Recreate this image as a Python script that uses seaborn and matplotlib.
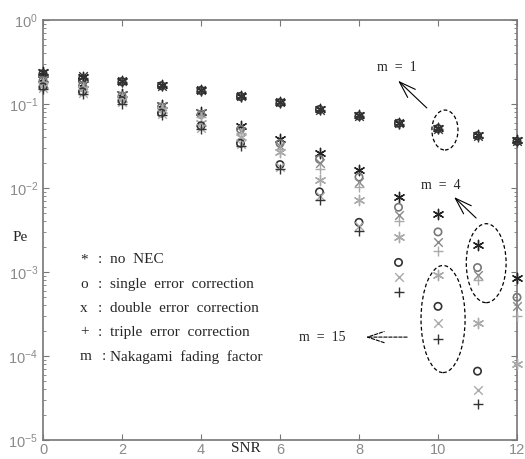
import numpy as np
import pandas as pd
import matplotlib
matplotlib.use("Agg")
import matplotlib.pyplot as plt
import seaborn as sns
from matplotlib.patches import Ellipse

# SNR points
snr = [0, 1, 2, 3, 4, 5, 6, 7, 8, 9, 10, 11, 12]

# m = 1 (Rayleigh) - all codes overlap
m1_nec = [0.24, 0.21, 0.19, 0.168, 0.147, 0.125, 0.106, 0.087, 0.073, 0.060, 0.052, 0.043, 0.037]
m1_sec = [0.23, 0.20, 0.185, 0.165, 0.145, 0.123, 0.104, 0.086, 0.072, 0.059, 0.051, 0.042, 0.036]
m1_dec = [0.235, 0.215, 0.188, 0.166, 0.146, 0.124, 0.105, 0.086, 0.072, 0.059, 0.051, 0.042, 0.036]
m1_tec = [0.225, 0.205, 0.183, 0.164, 0.144, 0.122, 0.104, 0.085, 0.071, 0.058, 0.050, 0.041, 0.035]

# m = 4
m4_nec = [0.20, 0.175, 0.13, 0.097, 0.080, 0.055, 0.038, 0.026, 0.0163, 0.0078, 0.0049, 0.0021, 0.00085]
m4_sec = [0.19, 0.165, 0.125, 0.092, 0.075, 0.050, 0.034, 0.022, 0.0135, 0.0059, 0.0030, 0.00113, 0.0005]
m4_dec = [0.195, 0.17, 0.128, 0.094, 0.078, 0.048, 0.032, 0.020, 0.0118, 0.0048, 0.0023, 0.00092, 0.00039]
m4_tec = [0.185, 0.16, 0.12, 0.090, 0.070, 0.045, 0.029, 0.017, 0.0102, 0.0040, 0.0018, 0.0008, 0.0003]

# m = 15
m15_nec = [0.17, 0.15, 0.115, 0.085, 0.060, 0.040, 0.027, 0.0125, 0.0072, 0.0026, 0.00092, 0.00025, 0.00008]
m15_sec = [0.16, 0.14, 0.11, 0.078, 0.055, 0.034, 0.019, 0.009, 0.0039, 0.0013, 0.00039, 0.000066, np.nan]
m15_dec = [0.155, 0.135, 0.105, 0.076, 0.052, 0.033, 0.018, 0.008, 0.0035, 0.00088, 0.00025, 0.000039, np.nan]
m15_tec = [0.15, 0.13, 0.10, 0.074, 0.050, 0.032, 0.017, 0.0072, 0.0031, 0.00058, 0.00016, 0.000027, np.nan]

series = {
    ("1", "nec"): m1_nec, ("1", "sec"): m1_sec, ("1", "dec"): m1_dec, ("1", "tec"): m1_tec,
    ("4", "nec"): m4_nec, ("4", "sec"): m4_sec, ("4", "dec"): m4_dec, ("4", "tec"): m4_tec,
    ("15", "nec"): m15_nec, ("15", "sec"): m15_sec, ("15", "dec"): m15_dec, ("15", "tec"): m15_tec,
}

rows = []
for (m, code), vals in series.items():
    for s, v in zip(snr, vals):
        rows.append({"snr": s, "pe": v, "m": m, "code": code})
df = pd.DataFrame(rows).dropna()

# marker styles
markers = {"nec": (6, 2, 0), "sec": "o", "dec": "x", "tec": "+"}
sizes = {"nec": 55, "sec": 28, "dec": 38, "tec": 45}
colors = {
    ("1", "nec"): "#222222", ("1", "sec"): "#333333", ("1", "dec"): "#333333", ("1", "tec"): "#333333",
    ("4", "nec"): "#222222", ("4", "sec"): "#777777", ("4", "dec"): "#888888", ("4", "tec"): "#aaaaaa",
    ("15", "nec"): "#aaaaaa", ("15", "sec"): "#333333", ("15", "dec"): "#aaaaaa", ("15", "tec"): "#333333",
}

sns.set_style("ticks")
serif = ["Liberation Serif", "DejaVu Serif"]
plt.rcParams["font.family"] = ["Liberation Sans", "DejaVu Sans"]

fig = plt.figure(figsize=(5.25, 4.59), dpi=100)
ax = fig.add_axes([43 / 525, 1 - 440 / 459, 474 / 525, 420 / 459])

for (m, code), c in colors.items():
    sub = df[(df["m"] == m) & (df["code"] == code)]
    kw = dict(color=c, linewidth=1.0)
    if code == "sec":
        kw = dict(facecolor="none", edgecolor=c, linewidth=1.2)
    sns.scatterplot(data=sub, x="snr", y="pe", marker=markers[code], s=sizes[code],
                    ax=ax, legend=False, zorder=3, clip_on=False, **kw)

ax.set_yscale("log")
ax.set_xlim(0, 12)
ax.set_ylim(1e-5, 1)
ax.set_xticks([0, 2, 4, 6, 8, 10, 12])
ax.set_xlabel("")
ax.set_ylabel("")
ax.tick_params(which="both", direction="in", top=True, right=True, colors="#777777",
               labelcolor="#8a8a8a", labelsize=10.5)
ax.tick_params(which="major", length=4)
ax.tick_params(which="minor", length=2)
ax.tick_params(axis="x", pad=2)
for sp in ax.spines.values():
    sp.set_color("#777777")
    sp.set_linewidth(1.2)

# axis labels
fig.text(20 / 525, 1 - 237 / 459, "Pe", family=serif, fontsize=11, ha="center", va="center")
fig.text(246 / 525, 1 - 448 / 459, "SNR", family=serif, fontsize=11, ha="center", va="center")

# text legend
legend_rows = [("*", "no  NEC"), ("o", "single  error  correction"), ("x", "double  error  correction"),
               ("+", "triple  error  correction"), ("m", "Nakagami  fading  factor")]
ys = [0.429, 0.371, 0.314, 0.257, 0.198]
for (sym, txt), yy in zip(legend_rows, ys):
    ax.text(0.078, yy, sym, transform=ax.transAxes, family=serif, fontsize=11, va="center")
    ax.text(0.123 if sym == "m" else 0.116, yy, ":", transform=ax.transAxes,
            family=serif, fontsize=11, va="center")
    ax.text(0.141, yy, txt, transform=ax.transAxes, family=serif, fontsize=11, va="center")

# ellipses
for (cx, cy, w, h) in [(0.848, 0.738, 0.055, 0.095), (0.935, 0.421, 0.084, 0.188),
                       (0.844, 0.288, 0.093, 0.255)]:
    ax.add_patch(Ellipse((cx, cy), w, h, transform=ax.transAxes, fill=False,
                         edgecolor="black", linestyle=(0, (3, 2)), linewidth=0.9))

# annotations
ax.text(0.747, 0.888, "m  =  1", transform=ax.transAxes, family=serif, fontsize=10,
        ha="center", va="center")
ax.annotate("", xy=(0.745, 0.860), xytext=(0.814, 0.786), xycoords="axes fraction",
            arrowprops=dict(arrowstyle="->,head_length=1.2,head_width=0.4", color="black", lw=0.8))
ax.text(0.840, 0.607, "m  =  4", transform=ax.transAxes, family=serif, fontsize=10,
        ha="center", va="center")
ax.annotate("", xy=(0.863, 0.583), xytext=(0.918, 0.524), xycoords="axes fraction",
            arrowprops=dict(arrowstyle="->,head_length=1.2,head_width=0.4", color="black", lw=0.8))
ax.text(0.589, 0.245, "m  =  15", transform=ax.transAxes, family=serif, fontsize=10,
        ha="center", va="center")
ax.annotate("", xy=(0.675, 0.245), xytext=(0.774, 0.245), xycoords="axes fraction",
            arrowprops=dict(arrowstyle="->,head_length=1.2,head_width=0.4", color="black", lw=0.8,
                            linestyle=(0, (3, 1.5))))

fig.savefig("out.png", dpi=100)
